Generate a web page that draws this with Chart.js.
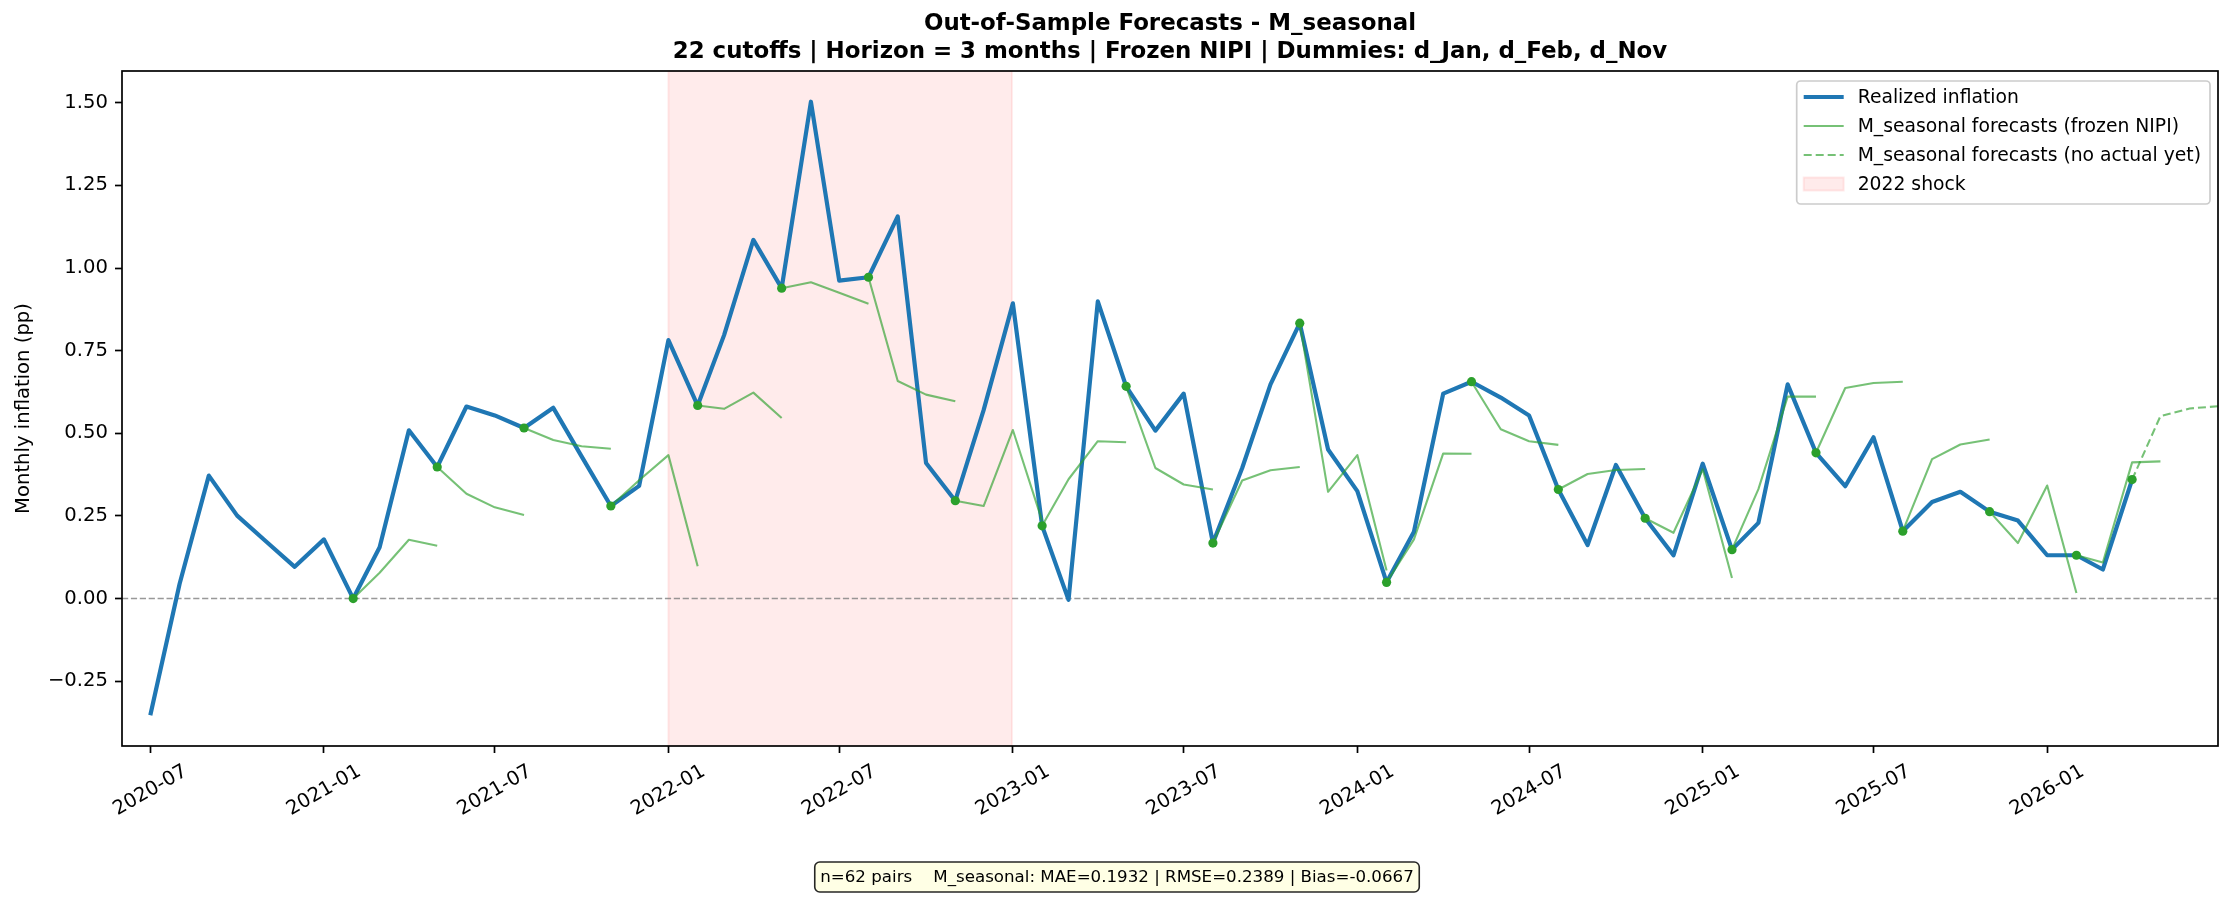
<!DOCTYPE html>
<html>
<head>
<meta charset="utf-8">
<script src="https://cdn.jsdelivr.net/npm/chart.js@4/dist/chart.umd.min.js"></script>
<style>
html,body{margin:0;padding:0;background:#ffffff;}
#wrap{position:relative;width:2234px;height:901px;}
canvas{display:block;}
</style>
</head>
<body>
<div id="wrap"><canvas id="c" width="2234" height="901"></canvas></div>
<script>
// ---------------- DATA ----------------
const realizedStart = '2020-07';
const realizedValues = [
  -0.353, 0.044, 0.372, 0.251, 0.172, 0.096,            // 2020-07 .. 2020-12
  0.179, 0.000, 0.155, 0.509, 0.398, 0.581, 0.554, 0.516, 0.577, 0.430, 0.280, 0.341, // 2021
  0.782, 0.584, 0.797, 1.085, 0.939, 1.503, 0.962, 0.972, 1.156, 0.410, 0.296, 0.570, // 2022
  0.893, 0.220, -0.004, 0.899, 0.642, 0.508, 0.620, 0.168, 0.395, 0.648, 0.833, 0.451, // 2023
  0.325, 0.049, 0.202, 0.620, 0.656, 0.608, 0.554, 0.330, 0.162, 0.404, 0.243, 0.131, // 2024
  0.408, 0.148, 0.229, 0.648, 0.441, 0.340, 0.488, 0.204, 0.292, 0.323, 0.263, 0.236, // 2025
  0.131, 0.131, 0.088, 0.360                              // 2026-01 .. 2026-04
];
const cutoffMonths = [
  '2021-02','2021-05','2021-08','2021-11','2022-02','2022-05','2022-08','2022-11',
  '2023-02','2023-05','2023-08','2023-11','2024-02','2024-05','2024-08','2024-11',
  '2025-02','2025-05','2025-08','2025-11','2026-02','2026-04'
];
const forecastValues = [
  [0.078, 0.178, 0.160],
  [0.317, 0.276, 0.253],
  [0.480, 0.461, 0.453],
  [0.358, 0.434, 0.098],
  [0.574, 0.623, 0.546],
  [0.957, 0.925, 0.892],
  [0.658, 0.617, 0.597],
  [0.280, 0.510, 0.235],
  [0.361, 0.476, 0.473],
  [0.395, 0.345, 0.330],
  [0.357, 0.388, 0.398],
  [0.323, 0.434, 0.085],
  [0.179, 0.439, 0.438],
  [0.512, 0.476, 0.465],
  [0.377, 0.389, 0.392],
  [0.199, 0.391, 0.062],
  [0.331, 0.611, 0.611],
  [0.637, 0.652, 0.656],
  [0.422, 0.466, 0.481],
  [0.168, 0.342, 0.017],
  [0.109, 0.412, 0.415],
  [0.552, 0.575, 0.582]
];
const noActualCutoffs = ['2026-04'];
const xTickLabels = ['2020-07','2021-01','2021-07','2022-01','2022-07','2023-01','2023-07','2024-01','2024-07','2025-01','2025-07','2026-01'];
const yTickValues = [-0.25, 0.00, 0.25, 0.50, 0.75, 1.00, 1.25, 1.50];
const shockRange = ['2022-01-01', '2022-12-31'];
const xRange = ['2020-06-01', '2026-07-01'];
const yRange = [-0.446, 1.596];
const titleLines = [
  'Out-of-Sample Forecasts - M_seasonal',
  '22 cutoffs | Horizon = 3 months | Frozen NIPI | Dummies: d_Jan, d_Feb, d_Nov'
];
const yAxisTitle = 'Monthly inflation (pp)';
const legendLabels = [
  'Realized inflation',
  'M_seasonal forecasts (frozen NIPI)',
  'M_seasonal forecasts (no actual yet)',
  '2022 shock'
];
const statsText = 'n=62 pairs    M_seasonal: MAE=0.1932 | RMSE=0.2389 | Bias=-0.0667';

// ---------------- HELPERS ----------------
function monthMs(ym, add) {
  const p = ym.split('-').map(Number);
  return Date.UTC(p[0], p[1] - 1 + (add || 0), 1);
}
function dayMs(s) {
  const p = s.split('-').map(Number);
  return Date.UTC(p[0], p[1] - 1, p[2]);
}
function monthIndex(ym) {
  const a = realizedStart.split('-').map(Number), b = ym.split('-').map(Number);
  return (b[0] - a[0]) * 12 + (b[1] - a[1]);
}
function fmtY(v) {
  const s = Math.abs(v).toFixed(2);
  return v < 0 ? '\u2212' + s : s;
}

const BLUE = '#1f77b4';
const GREEN = '#2ca02c';
const GREEN_A = 'rgba(44,160,44,0.65)';
const FONT = "'DejaVu Sans', 'Liberation Sans', sans-serif";

// ---------------- DATASETS ----------------
const realizedPoints = realizedValues.map((v, i) => ({x: monthMs(realizedStart, i), y: v}));
const datasets = [];

// cutoff markers (top)
datasets.push({
  type: 'scatter',
  label: 'cutoffs',
  data: cutoffMonths.map(c => ({x: monthMs(c), y: realizedValues[monthIndex(c)]})),
  pointRadius: 4.6,
  pointHoverRadius: 4.6,
  pointBackgroundColor: GREEN,
  pointBorderWidth: 0,
  showLine: false,
  order: 0
});

cutoffMonths.forEach((c, i) => {
  const dashed = noActualCutoffs.includes(c);
  const pts = [{x: monthMs(c), y: realizedValues[monthIndex(c)]}]
    .concat(forecastValues[i].map((v, k) => ({x: monthMs(c, k + 1), y: v})));
  datasets.push({
    type: 'line',
    label: 'fc ' + c,
    data: pts,
    borderColor: GREEN_A,
    borderWidth: 2.1,
    borderDash: dashed ? [8, 4] : [],
    pointRadius: 0,
    tension: 0,
    fill: false,
    borderJoinStyle: 'round',
    order: 1
  });
});

datasets.push({
  type: 'line',
  label: 'Realized inflation',
  data: realizedPoints,
  borderColor: BLUE,
  borderWidth: 4.2,
  pointRadius: 0,
  tension: 0,
  fill: false,
  borderJoinStyle: 'round',
  borderCapStyle: 'butt',
  order: 2
});

// ---------------- PLUGINS ----------------
const bgPlugin = {
  id: 'bg',
  beforeDraw(chart) {
    const ctx = chart.ctx;
    ctx.save();
    ctx.fillStyle = '#ffffff';
    ctx.fillRect(0, 0, chart.width, chart.height);
    ctx.restore();
  },
  beforeDatasetsDraw(chart) {
    const {ctx, chartArea: a, scales: {x, y}} = chart;
    ctx.save();
    ctx.beginPath();
    ctx.rect(a.left, a.top, a.right - a.left, a.bottom - a.top);
    ctx.clip();
    // shock span
    const x0 = x.getPixelForValue(dayMs(shockRange[0]));
    const x1 = x.getPixelForValue(dayMs(shockRange[1]));
    ctx.fillStyle = 'rgba(255,0,0,0.08)';
    ctx.fillRect(x0, a.top - 2, x1 - x0, a.bottom - a.top + 4);
    ctx.strokeStyle = 'rgba(255,0,0,0.08)';
    ctx.lineWidth = 2;
    ctx.strokeRect(x0, a.top - 2, x1 - x0, a.bottom - a.top + 4);
    // zero line
    const y0 = y.getPixelForValue(0);
    ctx.strokeStyle = 'rgba(128,128,128,0.8)';
    ctx.lineWidth = 1.4;
    ctx.setLineDash([6.2, 2.7]);
    ctx.beginPath();
    ctx.moveTo(a.left, y0);
    ctx.lineTo(a.right, y0);
    ctx.stroke();
    ctx.restore();
  },
  afterDraw(chart) {
    const {ctx, chartArea: a, scales: {x}} = chart;
    ctx.save();
    // spines
    ctx.strokeStyle = '#000';
    ctx.lineWidth = 1.7;
    ctx.strokeRect(a.left, a.top, a.right - a.left, a.bottom - a.top);

    // x tick labels (rotated 30deg, centred on tick)
    ctx.font = '19.6px ' + FONT;
    ctx.fillStyle = '#000';
    ctx.textAlign = 'center';
    ctx.textBaseline = 'middle';
    const rot = 30 * Math.PI / 180;
    xTickLabels.forEach(lbl => {
      const px = x.getPixelForValue(monthMs(lbl));
      const w = ctx.measureText(lbl).width;
      const h = 19.6 * 1.17;
      const bh = w * Math.sin(rot) + h * Math.cos(rot);
      const cy = a.bottom + 7 + 7.3 + bh / 2;
      ctx.save();
      ctx.translate(px, cy);
      ctx.rotate(-rot);
      ctx.fillText(lbl, 0, 0);
      ctx.restore();
    });

    // title
    const cx = (a.left + a.right) / 2;
    ctx.font = 'bold 22.9px ' + FONT;
    ctx.textAlign = 'center';
    ctx.textBaseline = 'middle';
    ctx.fillText(titleLines[0], cx, 24.5);
    ctx.fillText(titleLines[1], cx, 52);

    // legend
    const lf = 18.75;
    ctx.font = lf + 'px ' + FONT;
    const maxW = Math.max(...legendLabels.map(t => ctx.measureText(t).width));
    const boxR = a.right - 8;
    const boxW = 7 + 40 + 14 + maxW + 9;
    const boxL = boxR - boxW;
    const boxT = a.top + 10;
    const rowH = 29;
    const boxH = 15 + rowH * 4 - 10 + 2;
    ctx.beginPath();
    ctx.roundRect(boxL, boxT, boxW, boxH, 4);
    ctx.fillStyle = 'rgba(255,255,255,0.8)';
    ctx.fill();
    ctx.strokeStyle = '#cccccc';
    ctx.lineWidth = 1.7;
    ctx.stroke();
    const hx0 = boxL + 7, hx1 = hx0 + 40, tx = hx1 + 14;
    for (let i = 0; i < 4; i++) {
      const ry = boxT + 16 + i * rowH;
      ctx.save();
      if (i === 0) {
        ctx.strokeStyle = BLUE; ctx.lineWidth = 4.2;
        ctx.beginPath(); ctx.moveTo(hx0, ry); ctx.lineTo(hx1, ry); ctx.stroke();
      } else if (i === 1) {
        ctx.strokeStyle = GREEN_A; ctx.lineWidth = 2.1;
        ctx.beginPath(); ctx.moveTo(hx0, ry); ctx.lineTo(hx1, ry); ctx.stroke();
      } else if (i === 2) {
        ctx.strokeStyle = GREEN_A; ctx.lineWidth = 2.1; ctx.setLineDash([8, 4]);
        ctx.beginPath(); ctx.moveTo(hx0, ry); ctx.lineTo(hx1, ry); ctx.stroke();
      } else {
        ctx.fillStyle = 'rgba(255,0,0,0.08)';
        ctx.fillRect(hx0, ry - 6.5, 40, 13);
        ctx.strokeStyle = 'rgba(255,0,0,0.08)';
        ctx.lineWidth = 2;
        ctx.strokeRect(hx0, ry - 6.5, 40, 13);
      }
      ctx.restore();
      ctx.fillStyle = '#000';
      ctx.textAlign = 'left';
      ctx.textBaseline = 'middle';
      ctx.fillText(legendLabels[i], tx, ry + 1);
    }

    // stats box
    const sf = 16.67;
    ctx.font = sf + 'px ' + FONT;
    const sw = ctx.measureText(statsText).width;
    const scx = chart.width / 2, scy = 877;
    const padX = 5.5, bh2 = 30;
    ctx.beginPath();
    ctx.roundRect(scx - sw / 2 - padX, scy - bh2 / 2, sw + 2 * padX, bh2, 5);
    ctx.fillStyle = 'rgba(255,255,224,0.85)';
    ctx.fill();
    ctx.strokeStyle = 'rgba(0,0,0,0.85)';
    ctx.lineWidth = 1.6;
    ctx.stroke();
    ctx.fillStyle = '#000';
    ctx.textAlign = 'center';
    ctx.textBaseline = 'middle';
    ctx.fillText(statsText, scx, scy + 1);
    ctx.restore();
  }
};

// ---------------- CHART ----------------
new Chart(document.getElementById('c'), {
  type: 'line',
  data: {datasets: datasets},
  options: {
    responsive: false,
    animation: false,
    devicePixelRatio: 1,
    layout: {padding: {top: 71, right: 16, bottom: 0, left: 0}},
    plugins: {
      legend: {display: false},
      tooltip: {enabled: false},
      title: {display: false}
    },
    scales: {
      x: {
        type: 'linear',
        min: dayMs(xRange[0]),
        max: dayMs(xRange[1]),
        afterBuildTicks(scale) {
          scale.ticks = xTickLabels.map(l => ({value: monthMs(l)}));
        },
        afterFit(scale) { scale.height = 155; },
        ticks: {display: false},
        grid: {display: true, drawOnChartArea: false, drawTicks: true, tickLength: 7, tickWidth: 1.7, tickColor: '#000'},
        border: {display: false}
      },
      y: {
        type: 'linear',
        min: yRange[0],
        max: yRange[1],
        afterBuildTicks(scale) {
          scale.ticks = yTickValues.map(v => ({value: v}));
        },
        afterFit(scale) { scale.width = 122; },
        ticks: {
          callback: v => fmtY(v),
          color: '#000',
          font: {family: FONT, size: 19.6},
          padding: 7
        },
        grid: {display: true, drawOnChartArea: false, drawTicks: true, tickLength: 7, tickWidth: 1.7, tickColor: '#000'},
        border: {display: false},
        title: {
          display: true,
          text: yAxisTitle,
          color: '#000',
          font: {family: FONT, size: 19.6},
          padding: {top: 12, bottom: 0}
        }
      }
    }
  },
  plugins: [bgPlugin]
});
</script>
</body>
</html>
